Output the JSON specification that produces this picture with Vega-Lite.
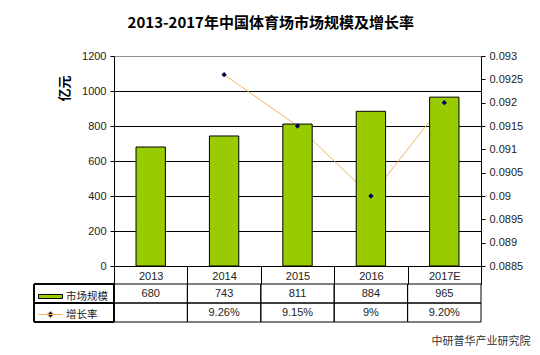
{
  "$schema": "https://vega.github.io/schema/vega-lite/v6.json",
  "background": "white",
  "padding": {"left": 33, "top": 16, "right": 10, "bottom": 5},
  "title": {
    "text": "2013-2017年中国体育场市场规模及增长率",
    "font": "Noto Sans CJK SC",
    "fontSize": 15,
    "fontWeight": "bold",
    "color": "black",
    "anchor": "middle",
    "offset": 19,
    "dx": -11
  },
  "datasets": {
    "d": [
      {"year": "2013", "size": 680, "rate": null, "rateLabel": ""},
      {"year": "2014", "size": 743, "rate": 0.0926, "rateLabel": "9.26%"},
      {"year": "2015", "size": 811, "rate": 0.0915, "rateLabel": "9.15%"},
      {"year": "2016", "size": 884, "rate": 0.09, "rateLabel": "9%"},
      {"year": "2017E", "size": 965, "rate": 0.092, "rateLabel": "9.20%"}
    ]
  },
  "config": {
    "font": "Liberation Sans",
    "view": {"stroke": null},
    "axis": {
      "labelFont": "Liberation Sans",
      "labelFontSize": 11,
      "labelColor": "#222",
      "domainColor": "black",
      "tickColor": "black"
    },
    "legend": {
      "labelFont": "Noto Sans CJK SC",
      "labelFontSize": 10.5,
      "labelColor": "#222",
      "padding": 0,
      "labelOffset": 3
    }
  },
  "bounds": "flush",
  "columns": 2,
  "spacing": {"row": 18, "column": 0},
  "concat": [
    {"width": 80, "height": 210, "data": {"values": []}, "mark": "point"},
    {
      "width": 367,
      "height": 210,
      "data": {"name": "d"},
      "encoding": {
        "x": {
          "field": "year",
          "type": "ordinal",
          "scale": {"paddingInner": 0, "paddingOuter": 0},
          "axis": {
            "orient": "bottom",
            "title": null,
            "tickBand": "extent",
            "tickSize": 18,
            "labelPadding": -14,
            "labelAngle": 0,
            "labelBaseline": "top",
            "grid": false
          }
        }
      },
      "layer": [
        {
          "mark": {"type": "line", "strokeWidth": 1},
          "encoding": {
            "y": {
              "field": "rate",
              "type": "quantitative",
              "scale": {"domain": [0.0885, 0.093], "zero": false, "nice": false},
              "axis": {
                "orient": "right",
                "title": null,
                "values": [0.0885, 0.089, 0.0895, 0.09, 0.0905, 0.091, 0.0915, 0.092, 0.0925, 0.093],
                "format": ".4~f",
                "grid": false,
                "tickSize": 4,
                "labelPadding": 4
              }
            },
            "stroke": {
              "datum": "增长率",
              "scale": {"range": ["#f2b45c"]},
              "legend": {
                "orient": "none",
                "legendX": 4,
                "legendY": 246,
                "title": null,
                "symbolType": "M-1,0H1M0,-0.28L0.28,0L0,0.28L-0.28,0Z",
                "symbolSize": 576,
                "symbolStrokeWidth": 1,
                "encode": {"symbols": {"update": {"fill": {"value": "#000050"}}}}
              }
            }
          }
        },
        {
          "mark": {"type": "bar", "width": {"band": 0.4}, "stroke": "black", "strokeWidth": 1},
          "encoding": {
            "y": {
              "field": "size",
              "type": "quantitative",
              "scale": {"domain": [0, 1200], "nice": false},
              "axis": {
                "orient": "left",
                "values": [0, 200, 400, 600, 800, 1000, 1200],
                "format": "d",
                "grid": true,
                "gridColor": {"condition": {"test": "datum.value === 1200", "value": "#909090"}, "value": "black"},
                "gridWidth": 1,
                "tickSize": 4,
                "labelPadding": 4,
                "title": "亿元",
                "titleFont": "Noto Sans CJK SC",
                "titleFontSize": 13,
                "titleFontWeight": "bold",
                "titleColor": "black",
                "titleAngle": -90,
                "titleX": -50,
                "titleY": 32,
                "titleAlign": "center",
                "titleBaseline": "middle"
              }
            },
            "fill": {
              "datum": "市场规模",
              "scale": {"range": ["#99cc00"]},
              "legend": {
                "orient": "none",
                "legendX": 4,
                "legendY": 228,
                "title": null,
                "symbolType": "M-1,-0.17H1V0.17H-1Z",
                "symbolSize": 576,
                "symbolStrokeColor": "black",
                "symbolStrokeWidth": 1
              }
            }
          }
        },
        {
          "mark": {"type": "point", "shape": "diamond", "filled": true, "color": "#000050", "size": 28, "opacity": 1},
          "encoding": {
            "y": {
              "field": "rate",
              "type": "quantitative",
              "scale": {"domain": [0.0885, 0.093], "zero": false, "nice": false},
              "axis": null
            }
          }
        }
      ],
      "resolve": {"scale": {"y": "independent"}}
    },
    {
      "width": 80,
      "height": 38,
      "data": {"name": "d"},
      "transform": [{"fold": ["size", "rateLabel"], "as": ["key", "value"]}],
      "mark": {"type": "rect", "fill": "transparent", "stroke": "black", "strokeWidth": 1},
      "encoding": {
        "y": {
          "field": "key",
          "type": "nominal",
          "sort": ["size", "rateLabel"],
          "axis": null,
          "scale": {"paddingInner": 0, "paddingOuter": 0}
        }
      }
    },
    {
      "width": 367,
      "height": 38,
      "data": {"name": "d"},
      "transform": [{"fold": ["size", "rateLabel"], "as": ["key", "value"]}],
      "encoding": {
        "x": {
          "field": "year",
          "type": "ordinal",
          "scale": {"paddingInner": 0, "paddingOuter": 0},
          "axis": {
            "orient": "bottom",
            "labels": false,
            "ticks": false,
            "domain": false,
            "grid": false,
            "title": "中研普华产业研究院",
            "titleFont": "Noto Sans CJK SC",
            "titleFontSize": 11,
            "titleFontWeight": "normal",
            "titleColor": "#333",
            "titleX": 416,
            "titleY": 19,
            "titleAlign": "right",
            "titleBaseline": "middle"
          }
        },
        "y": {
          "field": "key",
          "type": "nominal",
          "sort": ["size", "rateLabel"],
          "axis": null,
          "scale": {"paddingInner": 0, "paddingOuter": 0}
        }
      },
      "layer": [
        {"mark": {"type": "rect", "fill": "transparent", "stroke": "black", "strokeWidth": 1}},
        {
          "mark": {"type": "text", "fontSize": 11, "font": "Liberation Sans", "color": "#222"},
          "encoding": {"text": {"field": "value", "type": "nominal"}}
        }
      ]
    }
  ]
}
